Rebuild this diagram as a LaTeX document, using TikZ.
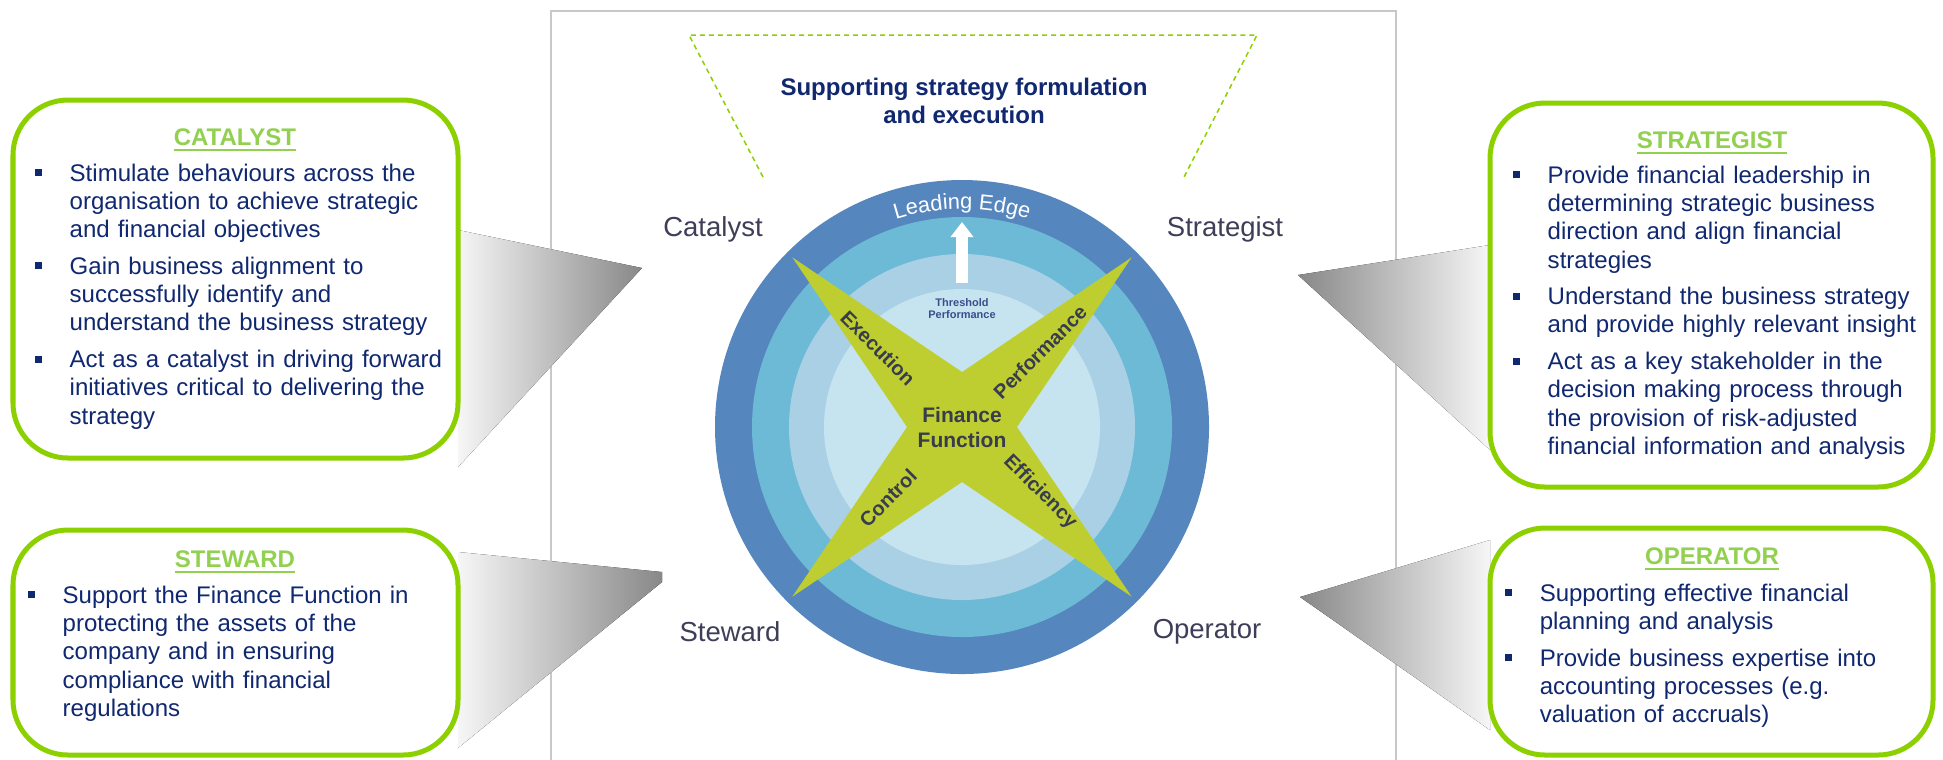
\documentclass[tikz,border=0pt]{standalone}
\usepackage{fontspec}
\setmainfont{Liberation Sans}
\usetikzlibrary{arrows.meta, positioning, decorations.text}
\definecolor{cLime}{RGB}{141,208,0}
\definecolor{cTitle}{RGB}{146,208,80}
\definecolor{cNavy}{RGB}{16,40,112}
\definecolor{cLabel}{RGB}{62,62,88}
\definecolor{cRingA}{RGB}{86,134,190}
\definecolor{cRingB}{RGB}{108,186,214}
\definecolor{cRingC}{RGB}{170,208,230}
\definecolor{cRingD}{RGB}{198,228,240}
\definecolor{cStar}{RGB}{190,206,48}
\definecolor{cArm}{RGB}{56,60,76}
\definecolor{cThr}{RGB}{60,76,140}
\definecolor{cPanel}{RGB}{200,200,200}
\definecolor{cWedgeD}{RGB}{136,136,136}
\definecolor{cWedgeL}{RGB}{246,246,246}
\newcommand{\sqbul}{\textcolor{cNavy}{\rule[0.05cm]{0.07cm}{0.07cm}}}
\newcommand{\ptitem}[1]{\hangindent=0.35cm\hangafter=1\noindent\makebox[0.35cm][l]{\sqbul}#1\par\vspace{0.083cm}}
\tikzset{
	rolebox/.style  ={draw=cLime, line width=0.05cm, rounded corners=0.55cm, fill=white},
	roletitle/.style={text=cTitle, font=\fontsize{6.83pt}{8pt}\selectfont\bfseries, inner sep=0pt, anchor=base},
	rolelist/.style ={text=cNavy, text width=4.3cm, align=left, inner sep=0pt, anchor=north west, font=\fontsize{6.83pt}{8.05pt}\selectfont},
	ringlabel/.style={text=cLabel, font=\fontsize{7.82pt}{9pt}\selectfont, inner sep=0pt},
	armlabel/.style ={text=cArm, font=\fontsize{5.69pt}{6.5pt}\selectfont\bfseries, inner sep=0pt},
	guide/.style    ={draw=cLime, line width=0.015cm, dash pattern=on 0.05cm off 0.04cm},
	uparrow/.style  ={draw=white, line width=0.12cm, -{Triangle[length=0.15cm, width=0.22cm]}},
}

\begin{document}
\begin{tikzpicture}[x=0.01cm, y=-0.01cm]
	% page
	\fill[white] (0,0) rectangle (1943,759);
	\useasboundingbox (0,0) rectangle (1943,759);
	\clip (0,0) rectangle (1943,759);
	% centre panel
	\draw[cPanel, line width=0.015cm] (551,11) rectangle (1396,775);
	\draw[guide] (763,177) -- (689,35) -- (1257,35) -- (1184,177);
	\node[text=cNavy, font=\fontsize{6.83pt}{7.97pt}\selectfont\bfseries, align=center] (head) at (964,101) {Supporting strategy formulation\\and execution};
	% rings
	\coordinate (ffc) at (962,427);
	\fill[cRingA] (ffc) circle[radius=247];
	\fill[cRingB] (ffc) circle[radius=210];
	\fill[cRingC] (ffc) circle[radius=173];
	\fill[cRingD] (ffc) circle[radius=138];
	% cross
	\fill[cStar, shift={(962,427)}] (45:240) -- (90:55) -- (135:240) -- (180:55) -- (225:240) -- (270:55) -- (315:240) -- (0:55) -- cycle;
	% threshold arrow
	\coordinate (arrbase) at (962,283);
	\coordinate (arrtip) at (962,222);
	\draw[uparrow] (arrbase) -- (arrtip);
	\path[decorate, decoration={text along path, text align=center, text={|\fontsize{6.2pt}{7pt}\selectfont\color{white}|Leading Edge}}] ([shift={(-150:218)}]ffc) arc[start angle=-150, end angle=-30, radius=218];
	\node[text=cThr, font=\fontsize{3.13pt}{3.41pt}\selectfont\bfseries, align=center, inner sep=0pt] (thr) at (962,309) {Threshold\\Performance};
	\node[text=cArm, font=\fontsize{5.97pt}{7.11pt}\selectfont\bfseries, align=center, inner sep=0pt] (fin) at (ffc) {Finance\\Function};
	\node[armlabel, rotate=-45] (exe) at (878,348) {Execution};
	\node[armlabel, rotate=45] (perf) at (1040,352) {Performance};
	\node[armlabel, rotate=45] (ctrl) at (888,498) {Control};
	\node[armlabel, rotate=-45] (effi) at (1040,492) {Efficiency};
	% role names
	\node[ringlabel] (lblcat) at (713,229) {Catalyst};
	\node[ringlabel] (lblstr) at (1225,229) {Strategist};
	\node[ringlabel] (lblstw) at (730,632) {Steward};
	\node[ringlabel] (lblopr) at (1207,632) {Operator};
	% pointers
	\fill[left color=cWedgeL, right color=cWedgeD] (458,230) -- (642,268) -- (458,467) -- cycle;
	\fill[left color=cWedgeL, right color=cWedgeD] (458,552) -- (662,572) -- (662,582) -- (458,748) -- cycle;
	\fill[left color=cWedgeD, right color=cWedgeL] (1490,245) -- (1298,275) -- (1490,450) -- cycle;
	\fill[left color=cWedgeD, right color=cWedgeL] (1490,540) -- (1300,597) -- (1490,730) -- cycle;
	% catalyst
	\draw[rolebox] (13,100) rectangle (458,458);
	\node[roletitle] (cattitle) at (235,145) {\underline{CATALYST}};
	\node[rolelist] (catlist) at (34,163) {%
		\ptitem{Stimulate behaviours across the\newline organisation to achieve strategic\newline and financial objectives}%
		\ptitem{Gain business alignment to\newline successfully identify and\newline understand the business strategy}%
		\ptitem{Act as a catalyst in driving forward\newline initiatives critical to delivering the\newline strategy}};
	% steward
	\draw[rolebox] (13,530) rectangle (458,755);
	\node[roletitle] (stwtitle) at (235,567) {\underline{STEWARD}};
	\node[rolelist] (stwlist) at (27,585) {%
		\ptitem{Support the Finance Function in\newline protecting the assets of the\newline company and in ensuring\newline compliance with financial\newline regulations}};
	% strategist
	\draw[rolebox] (1490,103) rectangle (1933,487);
	\node[roletitle] (strtitle) at (1712,148) {\underline{STRATEGIST}};
	\node[rolelist] (strlist) at (1512,165) {%
		\ptitem{Provide financial leadership in\newline determining strategic business\newline direction and align financial\newline strategies}%
		\ptitem{Understand the business strategy\newline and provide highly relevant insight}%
		\ptitem{Act as a key stakeholder in the\newline decision making process through\newline the provision of risk-adjusted\newline financial information and analysis}};
	% operator
	\draw[rolebox] (1490,528) rectangle (1933,755);
	\node[roletitle] (oprtitle) at (1712,564) {\underline{OPERATOR}};
	\node[rolelist] (oprlist) at (1504,583) {%
		\ptitem{Supporting effective financial\newline planning and analysis}%
		\ptitem{Provide business expertise into\newline accounting processes (e.g.\newline valuation of accruals)}};
\end{tikzpicture}
\end{document}
